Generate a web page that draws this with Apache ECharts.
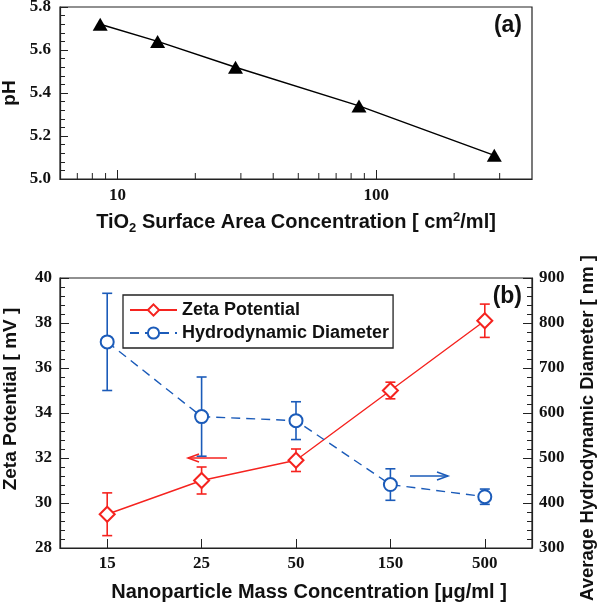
<!DOCTYPE html>
<html lang="en">
<head>
<meta charset="UTF-8">
<title>pH / zeta potential</title>
<script src="https://cdn.jsdelivr.net/npm/echarts@6.0.0/dist/echarts.min.js"></script>
<style>
html, body { margin: 0; padding: 0; background: #fff; }
#main { width: 600px; height: 604px; }
</style>
</head>
<body>
<div id="main"></div>
<script>
// (a) pH vs TiO2 surface area concentration
var areaConc = [8.58, 14.3, 28.6, 85.8, 286];
var pHValues = [5.72, 5.64, 5.52, 5.34, 5.11];
var logMinorTicks = [7, 8, 9, 20, 30, 40, 50, 60, 70, 80, 90, 200, 300];

// (b) zeta potential and hydrodynamic diameter vs mass concentration
var massConc = ['15', '25', '50', '150', '500'];
var zetaMean = [29.5, 31.0, 31.9, 35.0, 38.1];
var zetaErr = [0.95, 0.6, 0.5, 0.37, 0.74];
var diamMean = [758, 592, 583, 441, 414];
var diamErr = [108, 88, 42, 35, 17];

var RED = '#f5231f';
var BLUE = '#1b5bb9';
var INK = '#222';
var SERIF = '"Liberation Serif", "DejaVu Serif", serif';
var SANS = '"Liberation Sans", Arial, sans-serif';

var tickLabel = { color: '#111', fontFamily: SERIF, fontWeight: 'bold', fontSize: 17 };

function titleStyle(size, pad) {
  return {
    color: '#111', fontFamily: SANS, fontWeight: 'bold', fontSize: size,
    padding: pad || 0,
    rich: {
      sub: { fontFamily: SANS, fontWeight: 'bold', fontSize: 13, padding: [12, 0, 0, 0], color: '#111' },
      sup: { fontFamily: SANS, fontWeight: 'bold', fontSize: 13, padding: [0, 0, 10, 0], color: '#111' }
    }
  };
}

function errorBars(color) {
  return function (params, api) {
    var x = api.value(0), y = api.value(1), e = api.value(2);
    var hi = api.coord([x, y + e]);
    var lo = api.coord([x, y - e]);
    var w = 5;
    var st = { stroke: color, lineWidth: 1.6, fill: null };
    return {
      type: 'group',
      children: [
        { type: 'line', shape: { x1: hi[0], y1: hi[1], x2: lo[0], y2: lo[1] }, style: st },
        { type: 'line', shape: { x1: hi[0] - w, y1: hi[1], x2: hi[0] + w, y2: hi[1] }, style: st },
        { type: 'line', shape: { x1: lo[0] - w, y1: lo[1], x2: lo[0] + w, y2: lo[1] }, style: st }
      ]
    };
  };
}

function minorLogTick(params, api) {
  var p = api.coord([api.value(0), 5.4]);
  var cs = params.coordSys;
  var base = cs.y + cs.height;
  return {
    type: 'line',
    shape: { x1: p[0], y1: base, x2: p[0], y2: base - 6 },
    style: { stroke: INK, lineWidth: 1 }
  };
}

var chart = echarts.init(document.getElementById('main'), null, { renderer: 'canvas' });

var option = {
  animation: false,
  backgroundColor: '#fff',
  grid: [
    { left: 60, top: 7, width: 472, height: 172, show: true, borderColor: INK, borderWidth: 1.2,
      backgroundColor: 'transparent', outerBoundsMode: 'none' },
    { left: 60, top: 278, width: 472, height: 270, show: true, borderColor: INK, borderWidth: 1.2,
      backgroundColor: 'transparent', outerBoundsMode: 'none' }
  ],
  legend: {
    orient: 'vertical',
    left: 123,
    top: 295,
    padding: [6, 4, 6, 6],
    itemWidth: 47,
    itemHeight: 14,
    itemGap: 5,
    borderColor: INK,
    borderWidth: 1.3,
    backgroundColor: '#fff',
    textStyle: { color: '#111', fontFamily: SANS, fontSize: 18, fontWeight: 'bold' },
    data: ['Zeta Potential', 'Hydrodynamic Diameter']
  },
  xAxis: [
    {
      gridIndex: 0, type: 'log', logBase: 10, min: 6, max: 400,
      name: 'TiO{sub|2} Surface Area Concentration [ cm{sup|2}/ml]',
      nameLocation: 'middle', nameGap: 31, nameTextStyle: titleStyle(20),
      axisLine: { show: true, lineStyle: { color: INK, width: 1.2 } },
      axisTick: { show: true, inside: true, length: 9, lineStyle: { color: INK } },
      axisLabel: Object.assign({ margin: 8, showMinLabel: false, showMaxLabel: false }, tickLabel),
      splitLine: { show: false }
    },
    {
      gridIndex: 1, type: 'category', data: massConc, boundaryGap: true,
      name: 'Nanoparticle Mass Concentration [\u03bcg/ml ]',
      nameLocation: 'middle', nameGap: 34, nameTextStyle: titleStyle(20, [0, 0, 0, 26]),
      axisLine: { show: true, lineStyle: { color: INK, width: 1.2 } },
      axisTick: { show: true, inside: true, alignWithLabel: true, length: 9, lineStyle: { color: INK } },
      axisLabel: Object.assign({ margin: 7 }, tickLabel),
      splitLine: { show: false }
    }
  ],
  yAxis: [
    {
      gridIndex: 0, type: 'value', min: 5, max: 5.8, interval: 0.2,
      name: 'pH', nameLocation: 'middle', nameGap: 40, nameTextStyle: titleStyle(19),
      axisLine: { show: true, lineStyle: { color: INK, width: 1.2 } },
      axisTick: { show: true, inside: true, length: 8, lineStyle: { color: INK } },
      minorTick: { show: true, splitNumber: 5, length: 5, lineStyle: { color: INK } },
      axisLabel: Object.assign({ margin: 9, formatter: function (v) { return v.toFixed(1); } }, tickLabel),
      splitLine: { show: false }
    },
    {
      gridIndex: 1, type: 'value', min: 28, max: 40, interval: 2,
      name: 'Zeta Potential [ mV ]', nameLocation: 'middle', nameGap: 40,
      nameTextStyle: titleStyle(19, [0, 0, 0, 28]),
      axisLine: { show: true, lineStyle: { color: INK, width: 1.2 } },
      axisTick: { show: true, inside: true, length: 9, lineStyle: { color: INK } },
      minorTick: { show: true, splitNumber: 5, length: 5, lineStyle: { color: INK } },
      axisLabel: Object.assign({ margin: 8 }, tickLabel),
      splitLine: { show: false }
    },
    {
      gridIndex: 1, type: 'value', position: 'right', min: 300, max: 900, interval: 100,
      name: 'Average Hydrodynamic Diameter [ nm ]', nameLocation: 'middle', nameGap: 46,
      nameTextStyle: titleStyle(18.5, [0, 30, 0, 0]),
      axisLine: { show: true, lineStyle: { color: INK, width: 1.2 } },
      axisTick: { show: true, inside: true, length: 9, lineStyle: { color: INK } },
      minorTick: { show: true, splitNumber: 5, length: 5, lineStyle: { color: INK } },
      axisLabel: Object.assign({ margin: 7 }, tickLabel),
      splitLine: { show: false }
    }
  ],
  series: [
    {
      name: 'pH', type: 'line', xAxisIndex: 0, yAxisIndex: 0,
      data: areaConc.map(function (x, i) { return [x, pHValues[i]]; }),
      symbol: 'triangle', symbolSize: [15, 13],
      itemStyle: { color: '#000' },
      lineStyle: { color: '#000', width: 1.5 },
      z: 3
    },
    {
      name: 'minor', type: 'custom', xAxisIndex: 0, yAxisIndex: 0,
      data: logMinorTicks.map(function (v) { return [v, 5.4]; }),
      renderItem: minorLogTick, silent: true, z: 1
    },
    {
      name: 'zetaErr', type: 'custom', xAxisIndex: 1, yAxisIndex: 1,
      data: massConc.map(function (c, i) { return [i, zetaMean[i], zetaErr[i]]; }),
      renderItem: errorBars(RED), silent: true, z: 1
    },
    {
      name: 'diamErr', type: 'custom', xAxisIndex: 1, yAxisIndex: 2,
      data: massConc.map(function (c, i) { return [i, diamMean[i], diamErr[i]]; }),
      renderItem: errorBars(BLUE), silent: true, z: 1
    },
    {
      name: 'Zeta Potential', type: 'line', xAxisIndex: 1, yAxisIndex: 1,
      data: zetaMean,
      symbol: 'emptyDiamond', symbolSize: 15,
      itemStyle: { color: RED, borderWidth: 1.5 },
      lineStyle: { color: RED, width: 1.4 },
      z: 4
    },
    {
      name: 'Hydrodynamic Diameter', type: 'line', xAxisIndex: 1, yAxisIndex: 2,
      data: diamMean,
      symbol: 'emptyCircle', symbolSize: 13,
      itemStyle: { color: BLUE, borderWidth: 1.5 },
      lineStyle: { color: BLUE, width: 1.4, type: [9, 6] },
      z: 4
    }
  ],
  graphic: [
    { type: 'text', right: 78, top: 14, z: 10,
      style: { text: '(a)', font: 'bold 23px ' + SANS, fill: '#111' } },
    { type: 'text', right: 78, top: 285, z: 10,
      style: { text: '(b)', font: 'bold 23px ' + SANS, fill: '#111' } },
    // red arrow pointing to the left axis
    { type: 'polyline', z: 10, shape: { points: [[227, 458], [188, 458]] }, style: { stroke: RED, lineWidth: 1.5, fill: null } },
    { type: 'polyline', z: 10, shape: { points: [[199, 454], [188, 458], [199, 462]] }, style: { stroke: RED, lineWidth: 1.5, fill: null } },
    // blue arrow pointing to the right axis
    { type: 'polyline', z: 10, shape: { points: [[410, 476], [448, 476]] }, style: { stroke: BLUE, lineWidth: 1.5, fill: null } },
    { type: 'polyline', z: 10, shape: { points: [[437, 472], [448, 476], [437, 480]] }, style: { stroke: BLUE, lineWidth: 1.5, fill: null } }
  ]
};

chart.setOption(option);
</script>
</body>
</html>
